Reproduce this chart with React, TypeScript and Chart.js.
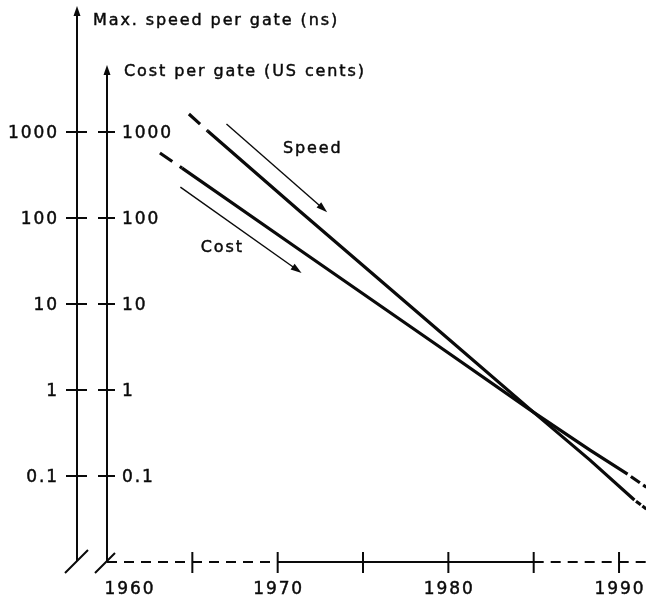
import React, { useEffect, useRef } from "react";
import { Chart, registerables } from "chart.js";

Chart.register(...registerables);

// ---- data ----
const speedYears = [1964.8, 1965.9, 1971.3, 1979.5, 1985.0, 1988.3, 1990.9, 1991.6];
const speedValues = [1620, 1030, 120, 4.8, 0.55, 0.153, 0.0526, 0.0414];
const costYears = [1963.1, 1964.4, 1971.3, 1979.5, 1985.0, 1988.3, 1990.5, 1991.6];
const costValues = [570, 381, 42.5, 3.16, 0.55, 0.2, 0.105, 0.074];

const yTickValues = [1000, 100, 10, 1, 0.1];
const yTickLabels = ["1000", "100", "10", "1", "0.1"];
const xTickYears = [1965, 1970, 1975, 1980, 1985, 1990];
const xLabelYears = [1960, 1970, 1980, 1990];
const xLabels = ["1960", "1970", "1980", "1990"];
const xSolidRange = [1970, 1985];

const speedArrowYears = [1967.0, 1972.9];
const speedArrowValues = [1240, 117];
const costArrowYears = [1964.3, 1971.4];
const costArrowValues = [229, 23];
const noteLabels = ["Speed", "Cost"];
const noteYears = [1972.0, 1966.7];
const noteValues = [634, 44.8];

const speedAxisTitle = "Max. speed per gate (ns)";
const costAxisTitle = "Cost per gate (US cents)";

const X_MIN = 1960;
const X_MAX = 1991.58;
const Y_MIN = 0.01;
const Y_MAX = 27700;

const FONT = '"DejaVu Sans", "Liberation Sans", Arial, sans-serif';
const LS = 1.9;
const INK = "#0a0a0a";

function drawText(
  ctx: CanvasRenderingContext2D,
  s: string,
  px: number,
  py: number,
  align: "left" | "right" | "center",
  size: number,
  baseline: CanvasTextBaseline = "alphabetic"
) {
  ctx.font = `${size}px ${FONT}`;
  (ctx as any).letterSpacing = "0px";
  const w0 = ctx.measureText(s).width;
  const w = w0 + LS * (s.length - 1);
  let sx = px;
  if (align === "right") sx = px - w;
  if (align === "center") sx = px - w / 2;
  (ctx as any).letterSpacing = LS + "px";
  ctx.textAlign = "left";
  ctx.textBaseline = baseline;
  ctx.fillStyle = INK;
  ctx.strokeStyle = INK;
  ctx.lineWidth = 0.45;
  ctx.fillText(s, sx, py);
  ctx.strokeText(s, sx, py);
  (ctx as any).letterSpacing = "0px";
}

function arrowHead(
  ctx: CanvasRenderingContext2D,
  tx: number,
  ty: number,
  angle: number,
  len: number,
  half: number
) {
  const bx = tx - Math.cos(angle) * len;
  const by = ty - Math.sin(angle) * len;
  const nx = -Math.sin(angle);
  const ny = Math.cos(angle);
  ctx.beginPath();
  ctx.moveTo(tx, ty);
  ctx.lineTo(bx + nx * half, by + ny * half);
  ctx.lineTo(bx - nx * half, by - ny * half);
  ctx.closePath();
  ctx.fill();
}

const decorPlugin = {
  id: "decor",
  afterDraw(chart: any) {
    const { ctx } = chart;
    const xs = chart.scales.x;
    const ys = chart.scales.y;
    const x0 = xs.getPixelForValue(X_MIN);
    const xr = xs.getPixelForValue(X_MAX);
    const y0 = ys.getPixelForValue(Y_MIN);
    const xl = x0 - 30;

    ctx.save();
    ctx.strokeStyle = INK;
    ctx.fillStyle = INK;
    ctx.lineCap = "butt";

    // vertical axes
    ctx.lineWidth = 2;
    ctx.beginPath();
    ctx.moveTo(xl, y0 - 1);
    ctx.lineTo(xl, 14);
    ctx.moveTo(x0, y0);
    ctx.lineTo(x0, 72);
    ctx.stroke();
    arrowHead(ctx, xl, 6, -Math.PI / 2, 10, 3.5);
    arrowHead(ctx, x0, 65, -Math.PI / 2, 10, 3.5);

    // break marks
    ctx.beginPath();
    ctx.moveTo(xl - 12, y0 + 11);
    ctx.lineTo(xl + 11, y0 - 12);
    ctx.moveTo(x0 - 12, y0 + 11);
    ctx.lineTo(x0 + 8, y0 - 9);
    ctx.stroke();

    // y ticks and labels
    yTickValues.forEach((v, i) => {
      const py = ys.getPixelForValue(v);
      ctx.lineWidth = 2;
      ctx.strokeStyle = INK;
      ctx.beginPath();
      ctx.moveTo(xl - 11, py);
      ctx.lineTo(xl + 10, py);
      ctx.moveTo(x0 - 9, py);
      ctx.lineTo(x0 + 8, py);
      ctx.stroke();
      drawText(ctx, yTickLabels[i], xl - 20, py + 6, "right", 17);
      drawText(ctx, yTickLabels[i], x0 + 15, py + 6, "left", 17);
    });

    // x axis: dashed outside solid range
    const xs1 = xs.getPixelForValue(xSolidRange[0]);
    const xs2 = xs.getPixelForValue(xSolidRange[1]);
    ctx.lineWidth = 2;
    ctx.strokeStyle = INK;
    ctx.setLineDash([10, 7]);
    ctx.beginPath();
    ctx.moveTo(x0, y0);
    ctx.lineTo(xs1, y0);
    ctx.moveTo(xs2, y0);
    ctx.lineTo(xr, y0);
    ctx.stroke();
    ctx.setLineDash([]);
    ctx.beginPath();
    ctx.moveTo(xs1, y0);
    ctx.lineTo(xs2, y0);
    ctx.stroke();

    xTickYears.forEach((yr) => {
      const px = xs.getPixelForValue(yr);
      ctx.lineWidth = 2;
      ctx.beginPath();
      ctx.moveTo(px, y0 - 10);
      ctx.lineTo(px, y0 + 11);
      ctx.stroke();
    });
    xLabelYears.forEach((yr, i) => {
      let px = xs.getPixelForValue(yr);
      if (yr === X_MIN) px += 22;
      drawText(ctx, xLabels[i], px, y0 + 32, "center", 17);
    });

    // axis titles
    drawText(ctx, speedAxisTitle, xl + 16, 25, "left", 16);
    drawText(ctx, costAxisTitle, x0 + 17, 76, "left", 16);

    // trend arrows
    const arrows = [
      [speedArrowYears, speedArrowValues],
      [costArrowYears, costArrowValues],
    ];
    arrows.forEach(([yrs, vals]) => {
      const ax = xs.getPixelForValue(yrs[0]);
      const ay = ys.getPixelForValue(vals[0]);
      const bx = xs.getPixelForValue(yrs[1]);
      const by = ys.getPixelForValue(vals[1]);
      const ang = Math.atan2(by - ay, bx - ax);
      ctx.lineWidth = 1.4;
      ctx.strokeStyle = INK;
      ctx.beginPath();
      ctx.moveTo(ax, ay);
      ctx.lineTo(bx - Math.cos(ang) * 6, by - Math.sin(ang) * 6);
      ctx.stroke();
      arrowHead(ctx, bx, by, ang, 11, 3.5);
    });

    noteLabels.forEach((s, i) => {
      const px = xs.getPixelForValue(noteYears[i]);
      const py = ys.getPixelForValue(noteValues[i]);
      drawText(ctx, s, px, py, "center", 16, "middle");
    });

    ctx.restore();
  },
};

function pts(xv: number[], yv: number[]) {
  return xv.map((x, i) => ({ x, y: yv[i] }));
}

export default function App() {
  const ref = useRef<HTMLCanvasElement | null>(null);

  useEffect(() => {
    if (!ref.current) return;
    const nS = speedYears.length;
    const nC = costYears.length;
    const chart = new Chart(ref.current, {
      type: "line",
      data: {
        datasets: [
          {
            label: "Speed",
            data: pts(speedYears, speedValues),
            borderColor: INK,
            borderWidth: 3.2,
            pointRadius: 0,
            tension: 0,
            fill: false,
            segment: {
              borderDash: (c: any) =>
                c.p0DataIndex === 0 ? [15, 9] : c.p1DataIndex === nS - 1 ? [6, 2] : undefined,
              borderDashOffset: (c: any) => (c.p1DataIndex === nS - 1 ? 6 : 0),
            },
          },
          {
            label: "Cost",
            data: pts(costYears, costValues),
            borderColor: INK,
            borderWidth: 3.2,
            pointRadius: 0,
            tension: 0,
            fill: false,
            segment: {
              borderDash: (c: any) =>
                c.p0DataIndex === 0 ? [15, 9] : c.p1DataIndex === nC - 1 ? [11, 4] : undefined,
              borderDashOffset: (c: any) => (c.p1DataIndex === nC - 1 ? 11 : 0),
            },
          },
        ],
      },
      options: {
        responsive: false,
        animation: false,
        devicePixelRatio: 1,
        layout: { padding: { left: 107, right: 0, top: 8, bottom: 38 } },
        plugins: {
          legend: { display: false },
          tooltip: { enabled: false },
        },
        scales: {
          x: { type: "linear", min: X_MIN, max: X_MAX, display: false },
          y: { type: "logarithmic", min: Y_MIN, max: Y_MAX, display: false },
        },
      },
      plugins: [decorPlugin],
    } as any);
    return () => chart.destroy();
  }, []);

  return (
    <div
      style={{
        position: "absolute",
        left: 0,
        top: 0,
        width: 646,
        height: 600,
        background: "#fff",
      }}
    >
      <canvas ref={ref} width={646} height={600} style={{ display: "block", width: 646, height: 600 }} />
    </div>
  );
}
